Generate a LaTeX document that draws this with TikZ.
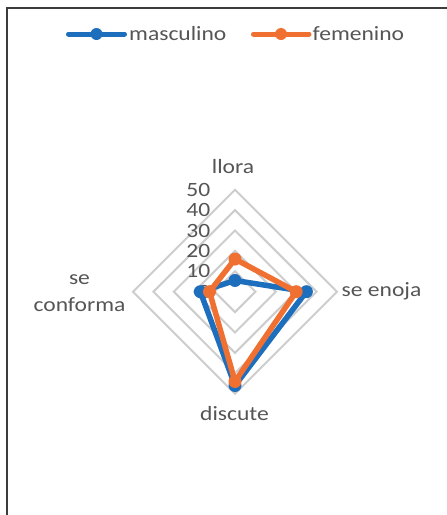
\documentclass[tikz,border=0pt]{standalone}
\usepackage{fontspec}
\usetikzlibrary{calc}
\setmainfont{Carlito}[FakeStretch=1.16]
\definecolor{txtgray}{RGB}{85,85,85}
\definecolor{gridgray}{RGB}{205,205,205}
\definecolor{framegray}{RGB}{60,60,60}
\definecolor{serblue}{RGB}{30,110,190}
\definecolor{serorange}{RGB}{240,112,50}
\begin{document}
\begin{tikzpicture}[x=1pt,y=-1pt,
  lbl/.style={text=txtgray,font=\fontsize{20.3}{27}\selectfont,inner sep=0pt},
  gridline/.style={draw=gridgray,line width=2pt},
  seriesline/.style={line width=5.5pt,line join=round,line cap=round},
  dotmark/.style={circle,inner sep=0pt,minimum size=13pt}]
\useasboundingbox (0,0) rectangle (447,515);
% frame
\draw[framegray,line width=2pt] (447,7.5) -- (6.5,7.5) -- (6.5,515);
% legend
\coordinate (lb1) at (68.5,34); \coordinate (lb2) at (124.5,34);
\draw[serblue,line width=5pt,line cap=round] (lb1) -- (lb2);
\node[dotmark,fill=serblue,minimum size=12pt] (lbm) at (96.5,34) {};
\node[lbl,anchor=west] (legm) at (129,34) {masculino};
\coordinate (lo1) at (253.5,34); \coordinate (lo2) at (309,34);
\draw[serorange,line width=5pt,line cap=round] (lo1) -- (lo2);
\node[dotmark,fill=serorange,minimum size=12pt] (lom) at (281,34) {};
\node[lbl,anchor=west] (legf) at (312.5,34) {femenino};
% grid
\coordinate (C) at (235,291.7);
\foreach \v in {10,20,30,40,50}{
  \draw[gridline] ($(C)+(0,-2.04*\v)$) -- ($(C)+(2.04*\v,0)$) -- ($(C)+(0,2.04*\v)$) -- ($(C)+(-2.04*\v,0)$) -- cycle;
}
% tick labels
\foreach \v in {0,10,20,30,40,50}{
  \node[lbl,anchor=east] (t\v) at ($(C)+(-24.5,-2.04*\v)$) {\v};
}
% axis labels
\node[lbl] (llora) at (233,167) {llora};
\node[lbl,anchor=west] (enoja) at (341.5,291) {se enoja};
\node[lbl] (discute) at (234.5,414) {discute};
\node[lbl,align=center] (conforma) at (79.5,293) {se\\conforma};
% series masculino
\coordinate (m1) at ($(C)+(0,-2.04*5.5)$);
\coordinate (m2) at ($(C)+(2.04*35,0)$);
\coordinate (m3) at ($(C)+(0,2.04*46)$);
\coordinate (m4) at ($(C)+(-2.04*17,0)$);
\draw[seriesline,serblue] (m1) -- (m2) -- (m3) -- (m4) -- cycle;
\foreach \p in {m1,m2,m3,m4}{\node[dotmark,fill=serblue] at (\p) {};}
% series femenino
\coordinate (f1) at ($(C)+(0,-2.04*16)$);
\coordinate (f2) at ($(C)+(2.04*30,0)$);
\coordinate (f3) at ($(C)+(0,2.04*44)$);
\coordinate (f4) at ($(C)+(-2.04*12.5,0)$);
\draw[seriesline,serorange] (f1) -- (f2) -- (f3) -- (f4) -- cycle;
\foreach \p in {f1,f2,f3,f4}{\node[dotmark,fill=serorange] at (\p) {};}
\end{tikzpicture}
\end{document}
